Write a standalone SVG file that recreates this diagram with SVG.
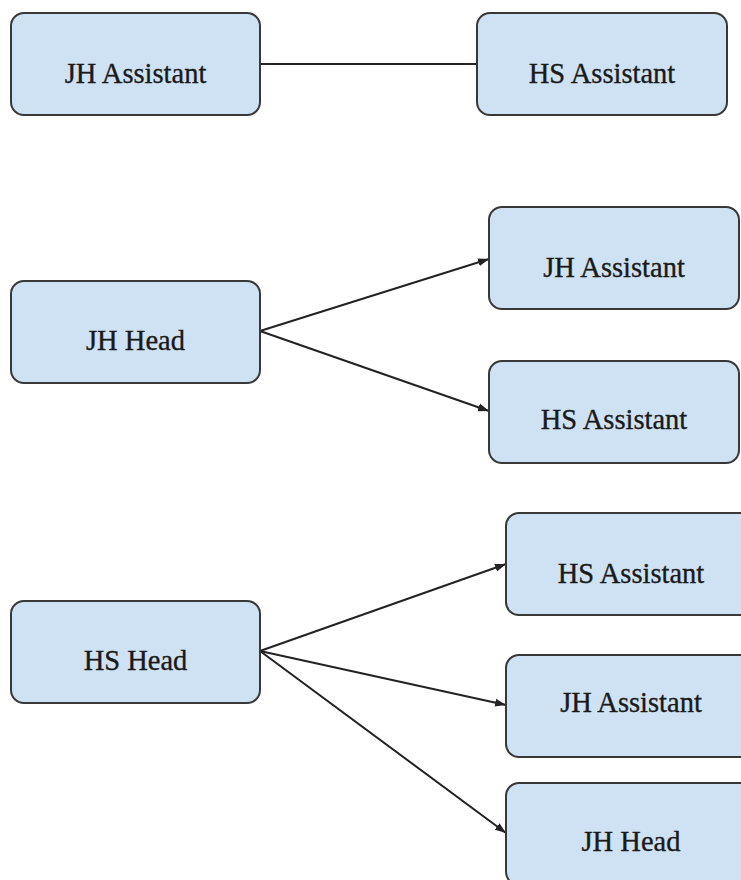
<svg xmlns="http://www.w3.org/2000/svg" width="741" height="880" viewBox="0 0 741 880">
<style>
.node rect{fill:#cfe2f3;stroke:#383838;stroke-width:2}
.node text{font-family:'Liberation Serif','Times New Roman',serif;font-size:28.5px;fill:#1a1a1a;stroke:#1a1a1a;stroke-width:0.35;text-anchor:middle}
.conn line{stroke:#222;stroke-width:2;fill:none}
</style>
<defs>
<marker id="arr" markerUnits="userSpaceOnUse" markerWidth="12" markerHeight="9" refX="11" refY="4.5" orient="auto">
<path d="M0,0.5 L11,4.5 L0,8.5 z" fill="#222"/>
</marker>
</defs>
<rect width="741" height="880" fill="#fff"/>
<g class="conn" id="connectors">
<line x1="260" y1="64" x2="477" y2="64"/>
<line x1="260" y1="331" x2="489" y2="259" marker-end="url(#arr)"/>
<line x1="260" y1="331" x2="489" y2="411" marker-end="url(#arr)"/>
<line x1="260" y1="651" x2="506" y2="564" marker-end="url(#arr)"/>
<line x1="260" y1="651" x2="506" y2="705" marker-end="url(#arr)"/>
<line x1="260" y1="651" x2="506" y2="833" marker-end="url(#arr)"/>
</g>
<g class="node" id="n1"><rect x="11" y="13" width="249" height="102" rx="13"/><text x="135.5" y="83">JH Assistant</text></g>
<g class="node" id="n2"><rect x="477" y="13" width="250" height="102" rx="13"/><text x="602" y="83">HS Assistant</text></g>
<g class="node" id="n3"><rect x="11" y="281" width="249" height="102" rx="13"/><text x="135.5" y="350">JH Head</text></g>
<g class="node" id="n4"><rect x="489" y="207" width="250" height="102" rx="13"/><text x="614" y="277">JH Assistant</text></g>
<g class="node" id="n5"><rect x="489" y="361" width="250" height="102" rx="13"/><text x="614" y="429">HS Assistant</text></g>
<g class="node" id="n6"><rect x="11" y="601" width="249" height="102" rx="13"/><text x="135.5" y="670">HS Head</text></g>
<g class="node" id="n7"><rect x="506" y="513" width="250" height="102" rx="13"/><text x="631" y="583">HS Assistant</text></g>
<g class="node" id="n8"><rect x="506" y="655" width="250" height="102" rx="13"/><text x="631" y="712">JH Assistant</text></g>
<g class="node" id="n9"><rect x="506" y="783" width="250" height="102" rx="13"/><text x="631" y="851">JH Head</text></g>
</svg>
